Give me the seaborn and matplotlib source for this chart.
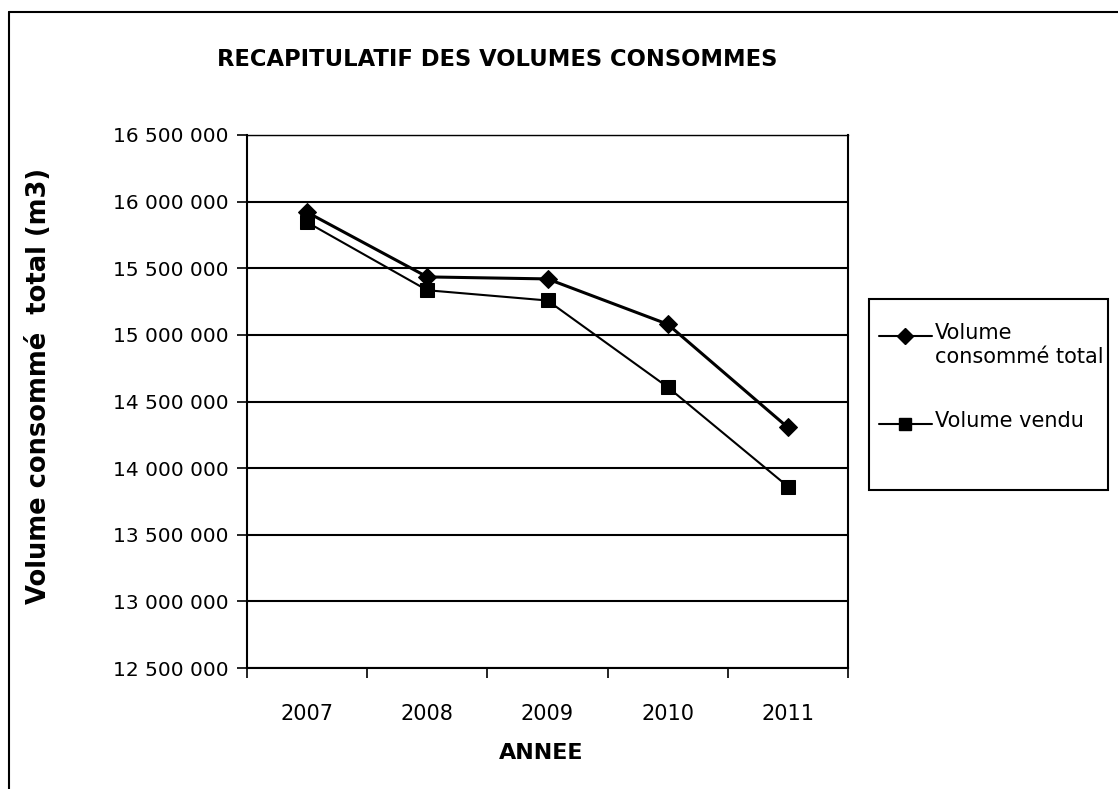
import pandas as pd
import numpy as np
import matplotlib.pyplot as plt
import seaborn as sns
from matplotlib.lines import Line2D
from matplotlib.patches import Rectangle
from matplotlib.ticker import FuncFormatter, FixedLocator

annees = ["2007", "2008", "2009", "2010", "2011"]
volume_total = [15920000, 15435000, 15420000, 15080000, 14305000]
volume_vendu = [15845000, 15335000, 15258000, 14608000, 13862000]

df = pd.DataFrame({
    'idx': np.arange(len(annees)),
    'annee': annees,
    'total': volume_total,
    'vendu': volume_vendu,
})

sns.set_style("white")
plt.rcParams['font.family'] = ['DejaVu Sans']
plt.rcParams['text.color'] = 'black'
plt.rcParams['axes.labelcolor'] = 'black'
plt.rcParams['xtick.color'] = 'black'
plt.rcParams['ytick.color'] = 'black'

W, H = 1118, 789
fig = plt.figure(figsize=(W / 100, H / 100), dpi=100)
ax = fig.add_axes([247/W, 1 - 668/H, 601/W, 533/H])

sns.lineplot(data=df, x='idx', y='total', ax=ax, color='black', lw=2.2,
             marker='D', markersize=9.5, markeredgecolor='black', legend=False)
sns.lineplot(data=df, x='idx', y='vendu', ax=ax, color='black', lw=1.5,
             marker='s', markersize=10, markeredgecolor='black', legend=False)

ax.set_xlim(-0.5, len(annees) - 0.5)
ax.set_ylim(12500000, 16500000)
ax.set_yticks(np.arange(12500000, 16500001, 500000))
ax.yaxis.set_major_formatter(FuncFormatter(lambda v, p: f"{int(v):,}".replace(",", " ")))
ax.yaxis.grid(True, color='black', lw=1.5)
ax.set_axisbelow(True)

# category axis: ticks between categories, labels at centres
ax.xaxis.set_major_locator(FixedLocator(np.arange(-0.5, len(annees), 1.0)))
ax.xaxis.set_minor_locator(FixedLocator(df['idx']))
ax.set_xticklabels([], minor=False)
ax.set_xticklabels(annees, minor=True)
ax.tick_params(axis='x', which='major', bottom=True, direction='out', length=7, width=1.2)
ax.tick_params(axis='x', which='minor', bottom=True, length=0, pad=26, labelsize=15)
ax.tick_params(axis='y', left=True, direction='out', length=7, width=1.2, labelsize=14.5, pad=6)

for s in ax.spines.values():
    s.set_color('black')
    s.set_linewidth(1.5)
ax.spines['top'].set_linewidth(1.0)

ax.set_xlabel("ANNEE", fontsize=16, fontweight='bold')
ax.set_ylabel("Volume consommé  total (m3)", fontsize=18.5, fontweight='bold')
ax.xaxis.set_label_coords(0.49, -0.14)
ax.yaxis.set_label_coords(-0.325, 0.53)

fig.text(497/W, 1 - 60/H, "RECAPITULATIF DES VOLUMES CONSOMMES", ha='center', va='center',
         fontsize=16.3, fontweight='bold')

# legend box drawn by hand (Excel style: handle aligned with first text line)
fig.add_artist(Rectangle((869/W, 1 - 490/H), (1108 - 869)/W, (490 - 299)/H,
                         transform=fig.transFigure, fill=False, ec='black', lw=1.5))
leg_items = [("Volume\nconsommé total", 'D', 8.5, 336), ("Volume vendu", 's', 8.5, 424)]
for label, mk, ms, y in leg_items:
    fig.add_artist(Line2D([879/W, 932/W], [1 - y/H, 1 - y/H], color='black', lw=1.5,
                          transform=fig.transFigure))
    fig.add_artist(Line2D([905/W], [1 - y/H], color='black', marker=mk, markersize=ms,
                          transform=fig.transFigure))
    fig.text(935/W, 1 - (y - 13)/H, label, ha='left', va='top', fontsize=15,
             linespacing=1.25)

# outer chart frame (only left and top edges visible)
fig.add_artist(Line2D([9/W, 9/W], [0, 1 - 12/H], color='black', lw=1.5,
                      transform=fig.transFigure))
fig.add_artist(Line2D([9/W, 1], [1 - 12/H, 1 - 12/H], color='black', lw=1.5,
                      transform=fig.transFigure))

fig.savefig("out.png", dpi=100)
